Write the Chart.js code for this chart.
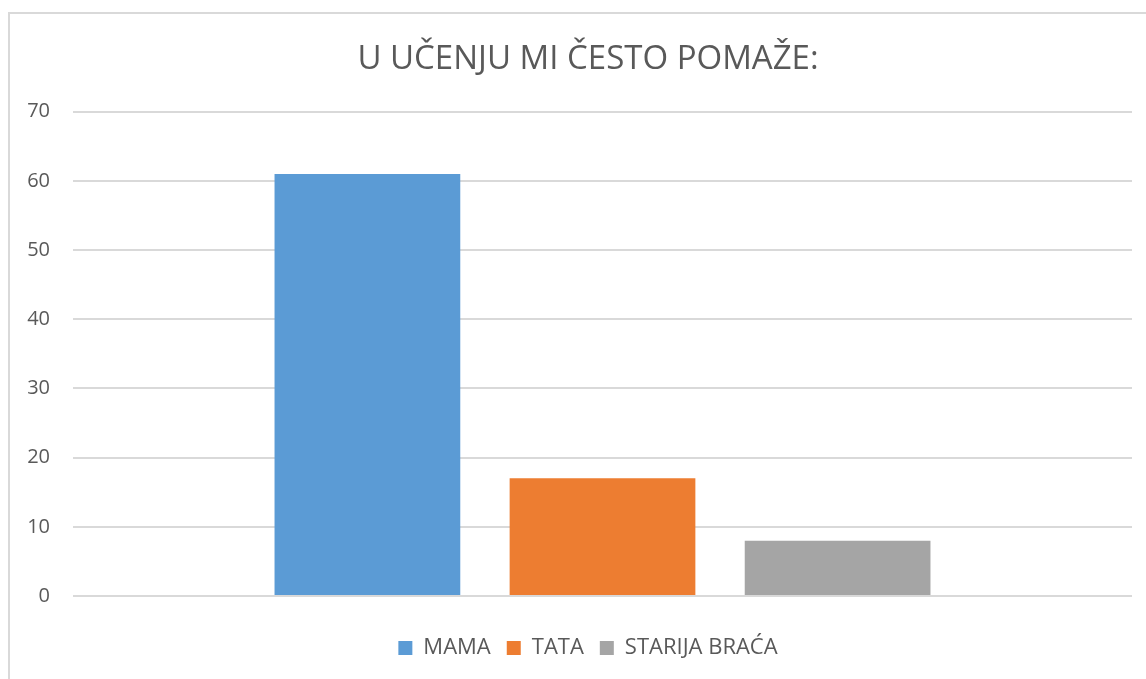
<!DOCTYPE html>
<html lang="hr">
<head>
    <meta charset="UTF-8">
    <title>U učenju mi često pomaže</title>
    <script src="https://cdn.jsdelivr.net/npm/chart.js"></script>
    <style>
        html, body { margin: 0; padding: 0; background: #fff; }
        #wrap { position: absolute; left: 0; top: 0; width: 1146px; height: 679px; }
        #frame { position: absolute; left: 8px; top: 12px; width: 1200px; height: 700px;
                 border-left: 2px solid #d9d9d9; border-top: 2px solid #d9d9d9; pointer-events: none; }
    </style>
</head>
<body>
    <div id="wrap">
        <canvas id="helpChart" width="1146" height="679"></canvas>
        <div id="frame"></div>
    </div>

    <script>
        // Data
        const categories = [''];
        const seriesNames = ['MAMA', 'TATA', 'STARIJA BRAĆA'];
        const seriesValues = [[61], [17], [8]];
        const seriesColors = ['#5B9BD5', '#ED7D31', '#A5A5A5'];
        const yTicks = [0, 10, 20, 30, 40, 50, 60, 70];

        const textColor = '#595959';
        const fontFamily = '"Open Sans", "Liberation Sans", sans-serif';

        const datasets = seriesNames.map((name, i) => ({
            label: name,
            data: seriesValues[i],
            backgroundColor: seriesColors[i],
            borderWidth: 0,
            categoryPercentage: 0.666,
            barPercentage: 0.79
        }));

        // title and legend sit a bit right of the canvas centre in the original
        const shiftBlocks = {
            id: 'shiftBlocks',
            afterLayout(chart) {
                chart.titleBlock.left += 44;
                chart.legend.left += 44;
            }
        };

        new Chart(document.getElementById('helpChart').getContext('2d'), {
            type: 'bar',
            data: { labels: categories, datasets: datasets },
            plugins: [shiftBlocks],
            options: {
                responsive: false,
                animation: false,
                layout: { padding: { left: 0, right: 14, top: 0, bottom: 10 } },
                plugins: {
                    title: {
                        display: true,
                        text: 'U UČENJU MI ČESTO POMAŽE:',
                        color: textColor,
                        font: { family: fontFamily, size: 33, weight: 'normal' },
                        padding: { top: 40, bottom: 32 }
                    },
                    legend: {
                        position: 'bottom',
                        labels: {
                            color: textColor,
                            font: { family: fontFamily, size: 22 },
                            boxWidth: 14,
                            boxHeight: 14,
                            padding: 16
                        }
                    },
                    tooltip: { enabled: false }
                },
                scales: {
                    x: {
                        grid: { display: false },
                        border: { display: false },
                        ticks: { display: false },
                        afterFit: (scale) => { scale.height = 25; }
                    },
                    y: {
                        min: 0,
                        max: 70,
                        afterBuildTicks: (scale) => { scale.ticks = yTicks.map(v => ({ value: v })); },
                        afterFit: (scale) => { scale.width = 73; },
                        grid: { color: '#d9d9d9', lineWidth: 2, drawTicks: false },
                        border: { display: false },
                        ticks: {
                            color: textColor,
                            padding: 23,
                            font: { family: fontFamily, size: 20 }
                        }
                    }
                }
            }
        });
    </script>
</body>
</html>
